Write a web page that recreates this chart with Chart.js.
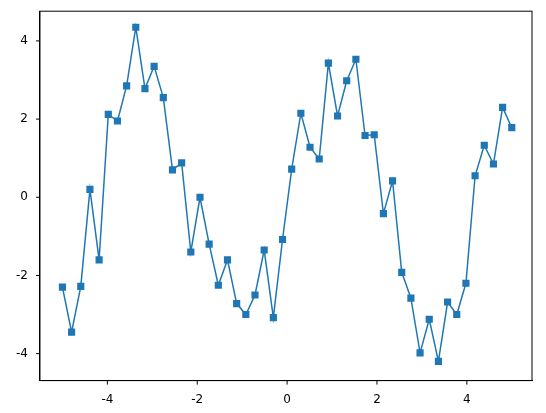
<!DOCTYPE html>
<html><head><script src="https://cdn.jsdelivr.net/npm/chart.js@4"></script>
<style>body{margin:0;background:#fff}#w{width:546px;height:413px}</style></head>
<body><div id="w"><canvas id="c"></canvas></div>
<script>
const yValues=[-2.3,-3.45,-2.28,0.2,-1.6,2.12,1.95,2.85,4.35,2.78,3.35,2.55,0.7,0.88,-1.4,0.0,-1.2,-2.25,-1.6,-2.72,-3.0,-2.5,-1.35,-3.08,-1.08,0.72,2.15,1.28,0.98,3.43,2.08,2.98,3.53,1.58,1.6,-0.42,0.42,-1.92,-2.58,-3.98,-3.12,-4.2,-2.68,-3.0,-2.2,0.55,1.33,0.85,2.3,1.78];
const xValues=yValues.map((_,i)=>-5+i*10/49);
const xTicks=[-4,-2,0,2,4];
const yTicks=[-4,-2,0,2,4];
const font={family:'DejaVu Sans',size:12};
new Chart(document.getElementById('c'),{type:'line',
data:{datasets:[{data:xValues.map((x,i)=>({x,y:yValues[i]})),borderColor:'#1f77b4',backgroundColor:'#1f77b4',borderWidth:1.5,pointStyle:'rect',pointRadius:4,pointHoverRadius:4,tension:0}]},
options:{responsive:true,maintainAspectRatio:false,animation:false,
layout:{padding:{left:12,right:14,top:10,bottom:2}},
plugins:{legend:{display:false},tooltip:{enabled:false}},
scales:{
x:{type:'linear',min:-5.5,max:5.45,afterBuildTicks:a=>{a.ticks=xTicks.map(v=>({value:v}))},grid:{display:false,drawTicks:true},border:{color:'#000'},ticks:{color:'#000',font,padding:4},},
y:{type:'linear',min:-4.69,max:4.76,afterBuildTicks:a=>{a.ticks=yTicks.map(v=>({value:v}))},grid:{display:false},border:{color:'#000'},ticks:{color:'#000',font,padding:4}}
}},
plugins:[{id:'frame',afterDraw(c){const a=c.chartArea,g=c.ctx;g.save();g.strokeStyle='#000';g.lineWidth=1;g.strokeRect(a.left,a.top,a.right-a.left,a.bottom-a.top);
g.beginPath();xTicks.forEach(v=>{const p=c.scales.x.getPixelForValue(v);g.moveTo(p,a.bottom);g.lineTo(p,a.bottom+4)});
yTicks.forEach(v=>{const p=c.scales.y.getPixelForValue(v);g.moveTo(a.left,p);g.lineTo(a.left-4,p)});g.stroke();g.restore();}}]
});
</script></body></html>
